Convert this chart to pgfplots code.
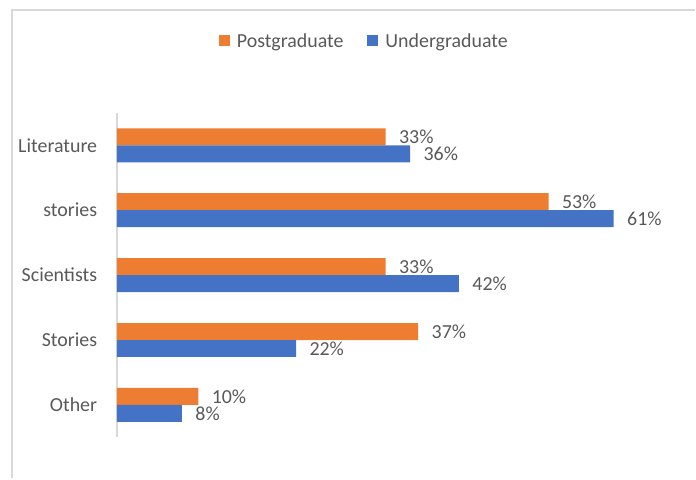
\documentclass[border=0pt]{standalone}
\usepackage{pgfplots}
\pgfplotsset{compat=1.18}
\usepackage{fontspec}
\setmainfont{Carlito}
\definecolor{pg}{HTML}{ED7D31}
\definecolor{ug}{HTML}{4472C4}
\definecolor{txt}{HTML}{595959}
\definecolor{frm}{HTML}{D9D9D9}
\begin{document}
\begin{tikzpicture}[x=1bp,y=1bp]
\path (0,0) rectangle (696,479);
\draw[frm, line width=2bp] (12,0) -- (12,469) -- (696,469);
\begin{axis}[
  at={(117bp,41bp)}, anchor=south west,
  scale only axis, width=571bp, height=325bp,
  xbar, bar width=17bp,
  xmin=0, xmax=70,
  ymin=-0.5, ymax=4.5,
  axis x line=none,
  axis y line*=left,
  y axis line style={frm, line width=1.5bp},
  ytick={0,1,2,3,4},
  yticklabels={Other,Stories,Scientists,stories,Literature},
  ytick style={draw=none},
  yticklabel style={txt, font=\fontsize{20}{23}\selectfont, xshift=-12bp},
  nodes near coords={\pgfmathprintnumber[assume math mode=true]{\pgfplotspointmeta}\%},
  nodes near coords style={txt, font=\fontsize{20}{23}\selectfont, anchor=west, xshift=10bp},
  legend style={at={(0.434,1.2215)}, anchor=center, draw=none, fill=none,
    font=\fontsize{20}{23}\selectfont, text=txt, legend columns=2,
    /tikz/every odd column/.append style={column sep=5bp},
    /tikz/every even column/.append style={column sep=22bp}},
  legend image code/.code={\fill[#1] (0bp,-5bp) rectangle (11bp,6bp);},
]
\addplot[fill=pg, draw=none, bar shift=8.5bp] coordinates {(10,0) (37,1) (33,2) (53,3) (33,4)};
\addlegendentry{Postgraduate}
\addplot[fill=ug, draw=none, bar shift=-8.5bp] coordinates {(8,0) (22,1) (42,2) (61,3) (36,4)};
\addlegendentry{Undergraduate}
\end{axis}
\end{tikzpicture}
\end{document}
